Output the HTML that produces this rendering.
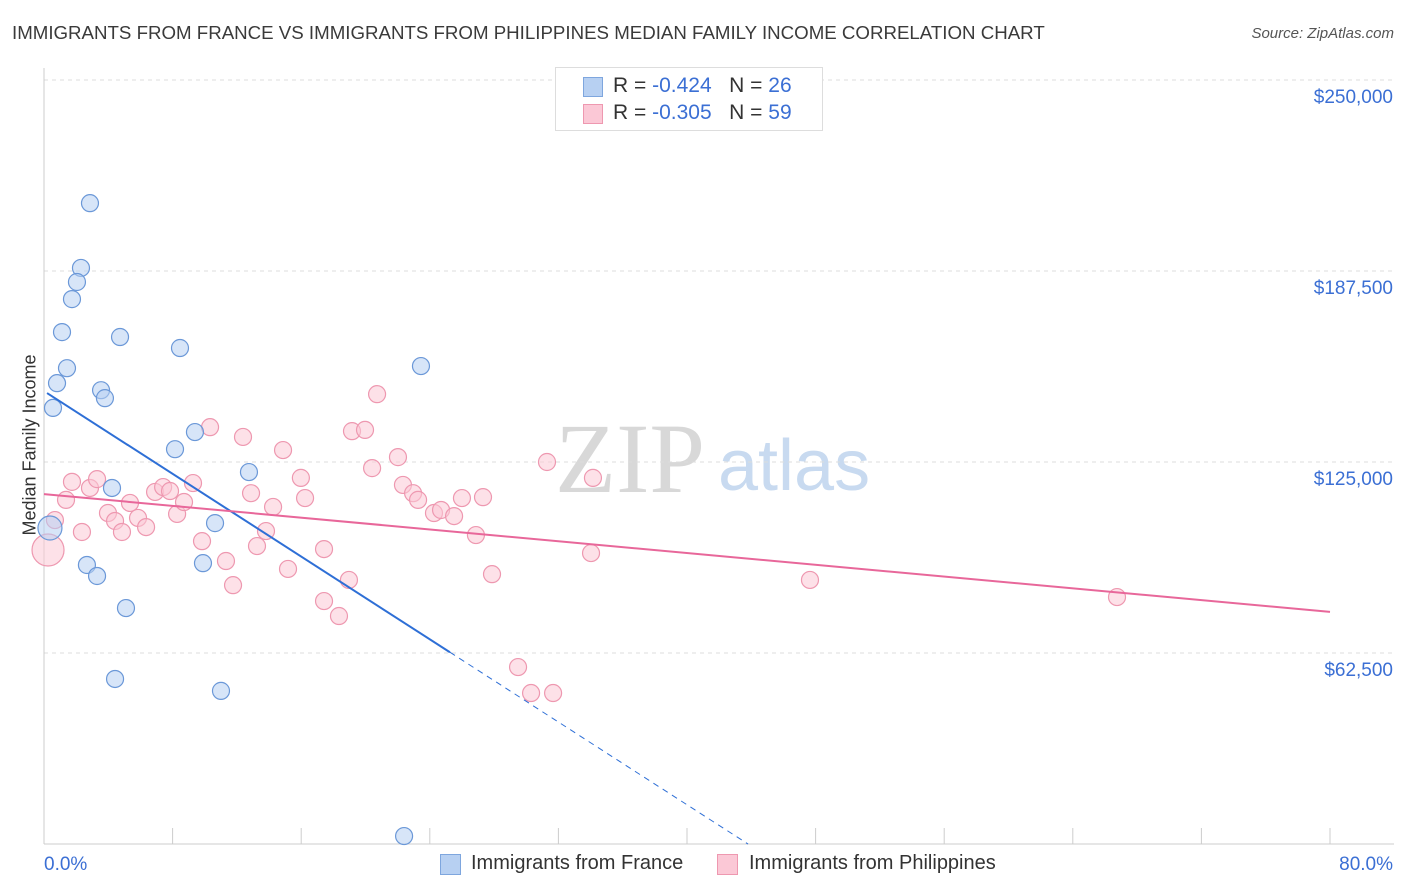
<!DOCTYPE html>
<html><head><meta charset="utf-8">
<style>
body{margin:0;background:#fff;font-family:"Liberation Sans",sans-serif;}
#wrap{position:relative;width:1406px;height:892px;overflow:hidden;}
.t{position:absolute;white-space:nowrap;}
</style></head>
<body>
<div id="wrap">
<div class="t" style="left:12px;top:22px;font-size:18.7px;color:#3a3a3a;">IMMIGRANTS FROM FRANCE VS IMMIGRANTS FROM PHILIPPINES MEDIAN FAMILY INCOME CORRELATION CHART</div>
<div class="t" style="right:12px;top:25px;font-size:15px;color:#555;font-style:italic;">Source: ZipAtlas.com</div>
<svg id="svg" width="1406" height="892" style="position:absolute;left:0;top:0">
<text x="555" y="492" font-size="100" fill="#d8d8d8" font-family="Liberation Serif">ZIP</text>
<text x="718" y="490" font-size="72" fill="#c8daf0" font-family="Liberation Sans">atlas</text>
</svg>
<div class="t" style="left:-30px;top:445px;font-size:18px;color:#333;transform:rotate(-90deg);transform-origin:center;width:120px;text-align:center;margin-top:20px;">Median Family Income</div>
<div style="position:absolute;left:555px;top:67px;width:266px;height:62px;border:1px solid #ddd;background:#fff;">
 <div style="position:absolute;left:27px;top:9px;width:18px;height:18px;background:#b7d0f2;border:1px solid #7ea6de;"></div>
 <div class="t" style="left:57px;top:6px;font-size:21px;color:#333;">R = <span style="color:#3b6fd4">-0.424</span> &nbsp; N = <span style="color:#3b6fd4">26</span></div>
 <div style="position:absolute;left:27px;top:36px;width:18px;height:18px;background:#fbc8d6;border:1px solid #ee98b0;"></div>
 <div class="t" style="left:57px;top:33px;font-size:21px;color:#333;">R = <span style="color:#3b6fd4">-0.305</span> &nbsp; N = <span style="color:#3b6fd4">59</span></div>
</div>
<div style="position:absolute;left:440px;top:854px;width:19px;height:19px;background:#b7d0f2;border:1px solid #7ea6de;"></div>
<div class="t" style="left:471px;top:852px;font-size:20px;color:#333;">Immigrants from France</div>
<div style="position:absolute;left:717px;top:854px;width:19px;height:19px;background:#fbc8d6;border:1px solid #ee98b0;"></div>
<div class="t" style="left:749px;top:852px;font-size:20px;color:#333;">Immigrants from Philippines</div>
</div>
<script>
const yTicks=[62500,125000,187500,250000];
const yTickLabels=["$62,500","$125,000","$187,500","$250,000"];
const xTickLabels=["0.0%","80.0%"];
const franceX=[2.86,2.30,2.05,1.74,1.12,4.73,8.46,1.43,0.81,3.55,3.79,0.56,23.45,9.39,8.15,12.75,4.23,10.64,0.37,2.67,9.89,3.30,5.10,4.42,11.01,22.40];
const franceY=[209700,188500,183900,178300,167500,165900,162300,155700,150800,148500,145900,142700,156400,134800,129200,121700,116500,105000,103400,91300,91900,87700,77200,54000,50100,2600];
const philX=[0.25,0.68,1.37,1.74,2.36,2.86,3.30,3.98,4.42,4.85,5.35,5.85,6.35,6.91,7.41,7.84,8.28,8.71,9.27,9.83,10.33,11.32,11.76,12.38,12.88,13.25,13.81,14.25,14.87,15.18,15.98,16.24,17.42,17.42,18.35,18.97,19.16,19.97,20.41,20.72,22.02,22.33,22.96,23.27,24.26,24.70,25.51,26.00,26.87,27.31,27.87,29.49,30.30,31.29,31.67,34.03,34.15,47.65,66.75];
const philY=[96200,106000,112600,118500,102100,116500,119400,108300,105700,102100,111600,106700,103700,115200,116800,115500,108000,111900,118100,99100,136400,92600,84700,133200,114800,97500,102400,110300,128900,90000,119800,113200,96500,79500,74600,86400,135100,135500,123000,147200,126600,117500,114800,112600,108300,109300,107300,113200,101100,113500,88300,57900,49400,125000,49400,95200,119800,86400,80800];
const franceTrend=[148200,-3384];
const philTrend=[114500,-482];
const X=v=>44+v/80*1286, Y=v=>844-v/62500*191;
const svg=document.getElementById('svg'),NS='http://www.w3.org/2000/svg';
function mk(t,a){const e=document.createElementNS(NS,t);for(const k in a)e.setAttribute(k,a[k]);svg.appendChild(e);return e;}
yTicks.forEach((v,i)=>{
 const l=mk('line',{x1:44,x2:1394,y1:Y(v),y2:Y(v),stroke:'#ddd','stroke-dasharray':'4,4'});
 
 
 const t=mk('text',{x:1393,y:Y(v)+23,'text-anchor':'end','font-size':19,fill:'#3b6fd4'});t.textContent=yTickLabels[i];
 
 
});
const ax=mk('line',{x1:44,x2:44,y1:68,y2:844,stroke:'#ccc'});


const bx=mk('line',{x1:44,x2:1394,y1:844,y2:844,stroke:'#ccc'});


for(let i=0;i<=10;i++){const tk=mk('line',{x1:X(i*8),x2:X(i*8),y1:828,y2:844,stroke:'#ccc'});
 
 }
[[0,'start',44],[80,'end',1393]].forEach((d,i)=>{const t=mk('text',{x:d[2],y:870,'text-anchor':d[1],'font-size':19,fill:'#3b6fd4'});t.textContent=xTickLabels[i];
 
 });
function dot(x,y,f,s,r){const c=mk('circle',{cx:X(x),cy:Y(y),r:r,fill:f,'fill-opacity':0.55,stroke:s,'stroke-width':1.2});return c;}
philX.forEach((x,i)=>{const c=dot(x,philY[i],'#fbc8d6','#ee98b0',i==0?16:8.5);
 
 });
franceX.forEach((x,i)=>{const c=dot(x,franceY[i],'#b7d0f2','#6b98d8',i==18?12:8.5);
 
 });
const fEnd=25.25, fy=x=>franceTrend[0]+franceTrend[1]*x;
const l1=mk('line',{x1:X(0.19),y1:Y(fy(0.19)),x2:X(fEnd),y2:Y(fy(fEnd)),stroke:'#2e6fd6','stroke-width':2});


const l2=mk('line',{x1:X(fEnd),y1:Y(fy(fEnd)),x2:X(43.8),y2:Y(fy(43.8)),stroke:'#2e6fd6','stroke-width':1,'stroke-dasharray':'6,5'});


const py=x=>philTrend[0]+philTrend[1]*x;
const l3=mk('line',{x1:X(0),y1:Y(py(0)),x2:X(80),y2:Y(py(80)),stroke:'#e8679a','stroke-width':2});


</script>
</body></html>
